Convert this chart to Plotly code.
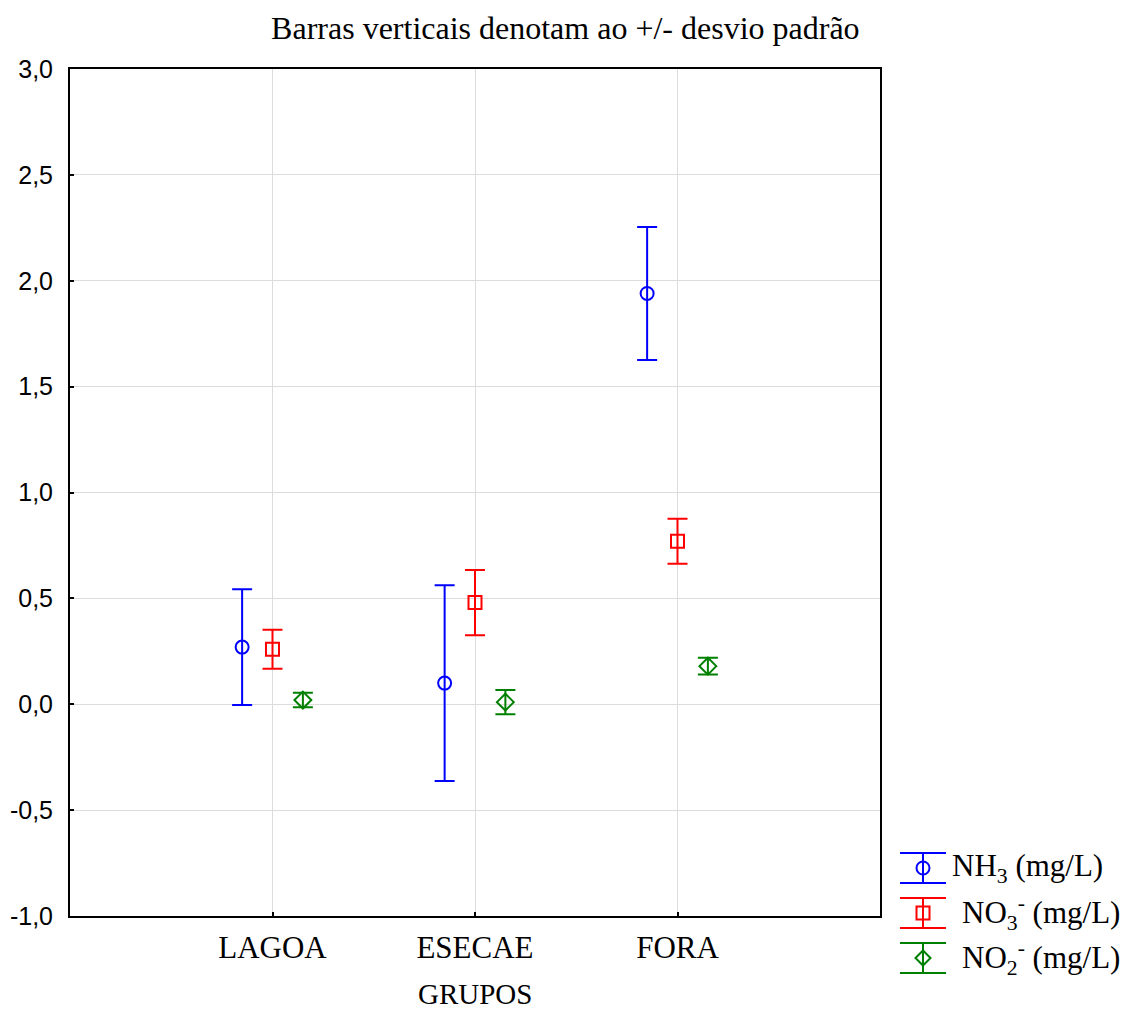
import plotly.graph_objects as go

groups = ["LAGOA", "ESECAE", "FORA"]
series_names = ["NH<sub>3</sub> (mg/L)", "NO<sub>3</sub><sup>-</sup> (mg/L)", "NO<sub>2</sub><sup>-</sup> (mg/L)"]
x_title = "GRUPOS"
chart_title = "Barras verticais denotam ao +/- desvio padrão"

nh3_mean = [0.27, 0.10, 1.94]
nh3_sd = [0.273, 0.462, 0.314]

no3_mean = [0.26, 0.48, 0.77]
no3_sd = [0.092, 0.154, 0.106]

no2_mean = [0.02, 0.01, 0.18]
no2_sd = [0.034, 0.057, 0.040]

y_ticks = [-1.0, -0.5, 0.0, 0.5, 1.0, 1.5, 2.0, 2.5, 3.0]
y_ticktext = ["-1,0", "-0,5", "0,0", "0,5", "1,0", "1,5", "2,0", "2,5", "3,0"]

colors = ["#0000ff", "#ff0000", "#008000"]
symbols = ["circle-open", "square-open", "diamond-open"]
offsets = [-0.15, 0.0, 0.15]
means = [nh3_mean, no3_mean, no2_mean]
sds = [nh3_sd, no3_sd, no2_sd]

fig = go.Figure()
for k in range(3):
    fig.add_trace(go.Scatter(
        x=[i + offsets[k] for i in range(len(groups))],
        y=means[k],
        mode="markers",
        name=series_names[k],
        marker=dict(symbol=symbols[k], size=13, color=colors[k], line=dict(width=2, color=colors[k])),
        error_y=dict(type="data", array=sds[k], visible=True, color=colors[k], thickness=2, width=10),
        showlegend=False,
    ))

# manual legend (error-bar glyph + label), positioned in paper coordinates
L, R, T, B = 70, 880, 69, 916
PW, PH = R - L, B - T
leg_y = [868, 913, 958]
leg_text_x = [950, 960, 960]


def px(x):
    return (x - L) / PW


def py(y):
    return (B - y) / PH


for k in range(3):
    yc = leg_y[k]
    for dy in (-15, 15):
        fig.add_shape(type="line", xref="paper", yref="paper",
                      x0=px(900), x1=px(946), y0=py(yc + dy), y1=py(yc + dy),
                      line=dict(color=colors[k], width=2))
    fig.add_shape(type="line", xref="paper", yref="paper",
                  x0=px(923), x1=px(923), y0=py(yc - 15), y1=py(yc + 15),
                  line=dict(color=colors[k], width=2))
    cx, cy = px(923), py(yc)
    hx, hy = 6.5 / PW, 6.5 / PH
    if k == 0:
        fig.add_shape(type="circle", xref="paper", yref="paper",
                      x0=cx - hx, x1=cx + hx, y0=cy - hy, y1=cy + hy,
                      line=dict(color=colors[k], width=2), fillcolor="white")
    elif k == 1:
        fig.add_shape(type="rect", xref="paper", yref="paper",
                      x0=cx - hx, x1=cx + hx, y0=cy - hy, y1=cy + hy,
                      line=dict(color=colors[k], width=2), fillcolor="white")
    else:
        hx2, hy2 = 7.5 / PW, 7.5 / PH
        fig.add_shape(type="path", xref="paper", yref="paper",
                      path=f"M {cx-hx2} {cy} L {cx} {cy+hy2} L {cx+hx2} {cy} L {cx} {cy-hy2} Z",
                      line=dict(color=colors[k], width=2), fillcolor="white")
    fig.add_shape(type="line", xref="paper", yref="paper",
                  x0=cx, x1=cx, y0=cy - hy * 1.1, y1=cy + hy * 1.1,
                  line=dict(color=colors[k], width=2))
    fig.add_annotation(xref="paper", yref="paper",
                       x=px(leg_text_x[k]), y=py(yc),
                       xanchor="left", yanchor="middle",
                       text=series_names[k], showarrow=False,
                       font=dict(family="Liberation Serif", size=31, color="black"))

# x-axis title as annotation
fig.add_annotation(xref="paper", yref="paper", x=0.5, y=py(994),
                   xanchor="center", yanchor="middle", text=x_title, showarrow=False,
                   borderpad=0,
                   font=dict(family="Liberation Serif", size=29, color="black"))

fig.update_layout(
    width=1124, height=1012,
    margin=dict(l=L, r=1124 - R, t=T, b=1012 - B),
    paper_bgcolor="white", plot_bgcolor="white",
    title=dict(text=chart_title,
               x=0.503, xanchor="center", y=1 - 28 / 1012, yanchor="middle",
               font=dict(family="Liberation Serif", size=32, color="black")),
    showlegend=False,
)
fig.update_xaxes(
    range=[-1, 3], tickvals=[0, 1, 2], ticktext=groups,
    showgrid=True, gridcolor="#dcdcdc", gridwidth=1,
    showline=True, linecolor="black", linewidth=2, mirror=True,
    ticks="inside", ticklen=4, tickcolor="black", tickwidth=2,
    zeroline=False, ticklabelstandoff=3, automargin=False,
    tickfont=dict(family="Liberation Serif", size=31, color="black"),
)
fig.update_yaxes(
    range=[-1, 3], tickvals=y_ticks, ticktext=y_ticktext,
    showgrid=True, gridcolor="#dcdcdc", gridwidth=1,
    showline=True, linecolor="black", linewidth=2, mirror=True,
    ticks="inside", ticklen=4, tickcolor="black", tickwidth=2,
    zeroline=False, ticklabelstandoff=10, automargin=False,
    tickfont=dict(family="Liberation Sans", size=25, color="black"),
)

fig.write_html("out.html")
